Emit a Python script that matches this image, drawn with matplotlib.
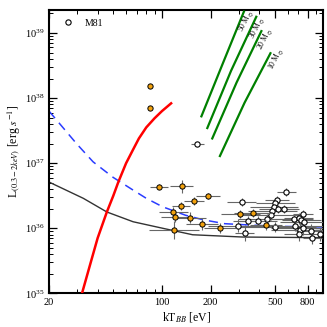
import numpy as np
import matplotlib
matplotlib.use('Agg')
import matplotlib.pyplot as plt
from matplotlib.ticker import FixedLocator, NullFormatter, LogLocator

plt.rcParams['font.family'] = 'serif'
plt.rcParams['font.serif'] = ['Liberation Serif', 'DejaVu Serif']
plt.rcParams['mathtext.fontset'] = 'stix'

# model curves (kT in eV, log10 L)
red_kt = [32, 36, 40, 45.6, 50, 53.7, 60, 66, 72, 80, 90, 100, 114]
red_logl = [35.0, 35.45, 35.85, 36.25, 36.5, 36.71, 37.0, 37.2, 37.38, 37.55, 37.69, 37.80, 37.92]

blue_kt = [20, 29.6, 37.5, 50, 65, 80, 101, 140, 180, 245, 500, 1000]
blue_logl = [37.80, 37.30, 37.02, 36.78, 36.6, 36.46, 36.33, 36.2, 36.13, 36.07, 36.03, 36.02]

black_kt = [20, 32.6, 45.6, 66.3, 101, 155, 317, 1000]
black_logl = [36.71, 36.46, 36.25, 36.10, 36.0, 35.90, 35.865, 35.855]

# mass tracks
mass_labels = ['50', '30', '20', '10']
mass_kt = [[175.6, 238, 322], [191, 268, 384], [205, 290, 413], [228.6, 325, 470]]
mass_logl = [[37.72, 38.53, 39.33], [37.54, 38.42, 39.25], [37.38, 38.24, 39.03], [37.11, 37.93, 38.69]]
mass_label_pos = [(332, 39.18), (388, 39.08), (434, 38.90), (510, 38.60)]

# orange sources
org_kt = [96.2, 132.4, 193, 158, 131, 117.8, 121, 149, 177, 230, 119.5, 306, 366, 443, 84.3, 84.3]
org_l = [4.34e36, 4.45e36, 3.12e36, 2.64e36, 2.22e36, 1.75e36, 1.51e36, 1.46e36,
         1.15e36, 1.0e36, 9.3e35, 1.65e36, 1.74e36, 1.12e36, 1.55e38, 6.95e37]
org_kt_dex = [0.054, 0.07, 0.072, 0.064, 0.057, 0.09, 0.087, 0.1, 0.1, 0.1, 0.155, 0.12, 0.12, 0.1, 0, 0]
org_l_dex = [0.04, 0.10, 0.05, 0.06, 0.06, 0.08, 0.09, 0.08, 0.08, 0.08, 0.14, 0.06, 0.06, 0.08, 0, 0]

# M81 (open circles)
m81_kt = [590, 313, 516, 505, 494, 524, 570, 483, 472, 450, 339, 394, 294, 505,
          655, 703, 748, 731, 758, 664, 713, 703, 748, 834, 855, 326, 957, 165.5]
m81_l = [3.56e36, 2.5e36, 2.71e36, 2.41e36, 2.14e36, 1.97e36, 1.97e36, 1.84e36, 1.6e36,
         1.38e36, 1.29e36, 1.29e36, 1.09e36, 1.05e36, 1.37e36, 1.42e36, 1.64e36, 1.34e36,
         1.23e36, 1.09e36, 9.4e35, 8.1e35, 1.0e36, 9.2e35, 7.2e35, 8.5e35, 8.1e35, 1.97e37]
m81_kt_dex = [0.06, 0.09, 0.075, 0.12, 0.15, 0.12, 0.09, 0.15, 0.18, 0.18, 0.09, 0.12, 0.18, 0.25,
              0.12, 0.09, 0.06, 0.12, 0.15, 0.25, 0.18, 0.09, 0.2, 0.09, 0.06, 0.06, 0.06, 0.04]
m81_l_dex = [0.06, 0.06, 0.06, 0.06, 0.06, 0.06, 0.06, 0.06, 0.08, 0.08, 0.08, 0.08, 0.1, 0.08,
             0.08, 0.08, 0.06, 0.08, 0.08, 0.08, 0.1, 0.1, 0.1, 0.1, 0.1, 0.12, 0.1, 0.02]


def err(vals, dex):
    vals = np.asarray(vals, float)
    dex = np.asarray(dex, float)
    return [vals - vals * 10 ** -dex, vals * 10 ** dex - vals]


fig = plt.figure(figsize=(3.27, 3.27), dpi=100)
ax = fig.add_axes([0.150, 0.103, 0.839, 0.866])

ax.plot(black_kt, 10 ** np.array(black_logl), color='0.2', lw=1.0, zorder=2)
ax.plot(blue_kt, 10 ** np.array(blue_logl), color='#2a3cff', lw=1.1, dashes=(6, 4), zorder=2)
ax.plot(red_kt, 10 ** np.array(red_logl), color='red', lw=1.8, zorder=3)

for lab, kt, ll, pos in zip(mass_labels, mass_kt, mass_logl, mass_label_pos):
    ax.plot(kt, 10 ** np.array(ll), color='green', lw=1.6, zorder=3)
    ax.text(pos[0], 10 ** pos[1], lab + r' M$_\odot$', rotation=63, fontsize=5.5,
            ha='center', va='center')

ax.errorbar(m81_kt, m81_l, xerr=err(m81_kt, m81_kt_dex), yerr=err(m81_l, m81_l_dex),
            fmt='o', ms=3.8, mfc='white', mec='black', mew=0.8, ecolor='0.4',
            elinewidth=0.8, capsize=0, zorder=4)
ax.errorbar(org_kt, org_l, xerr=err(org_kt, org_kt_dex), yerr=err(org_l, org_l_dex),
            fmt='o', ms=3.8, mfc='#f2a10d', mec='black', mew=0.7, ecolor='0.4',
            elinewidth=0.8, capsize=0, zorder=5)

ax.plot([], [], 'o', ms=3.8, mfc='white', mec='black', mew=0.8, label='M81')
ax.legend(loc='upper left', frameon=False, fontsize=7, handletextpad=1.2,
          bbox_to_anchor=(0.02, 1.0), handlelength=1.0)

ax.set_xscale('log')
ax.set_yscale('log')
ax.set_xlim(20, 1000)
ax.set_ylim(1e35, 2.25e39)

ax.xaxis.set_major_locator(FixedLocator([20, 100, 200, 500, 800]))
ax.xaxis.set_major_formatter(plt.FixedFormatter(['20', '100', '200', '500', '800']))
ax.xaxis.set_minor_locator(LogLocator(subs=np.arange(2, 10)))
ax.xaxis.set_minor_formatter(NullFormatter())

ax.tick_params(which='both', direction='in', top=True, right=True, labelsize=7.5)
ax.tick_params(which='major', length=6, width=0.9)
ax.tick_params(which='minor', length=3, width=0.7)
for s in ax.spines.values():
    s.set_linewidth(1.5)

ax.set_xlabel(r'kT$_{BB}$ [eV]', fontsize=8.5, labelpad=2)
ax.set_ylabel(r'L$_{(0.3-2keV)}$ [erg $s^{-1}$]', fontsize=8.5, labelpad=2)

fig.savefig('out.png', dpi=100)
